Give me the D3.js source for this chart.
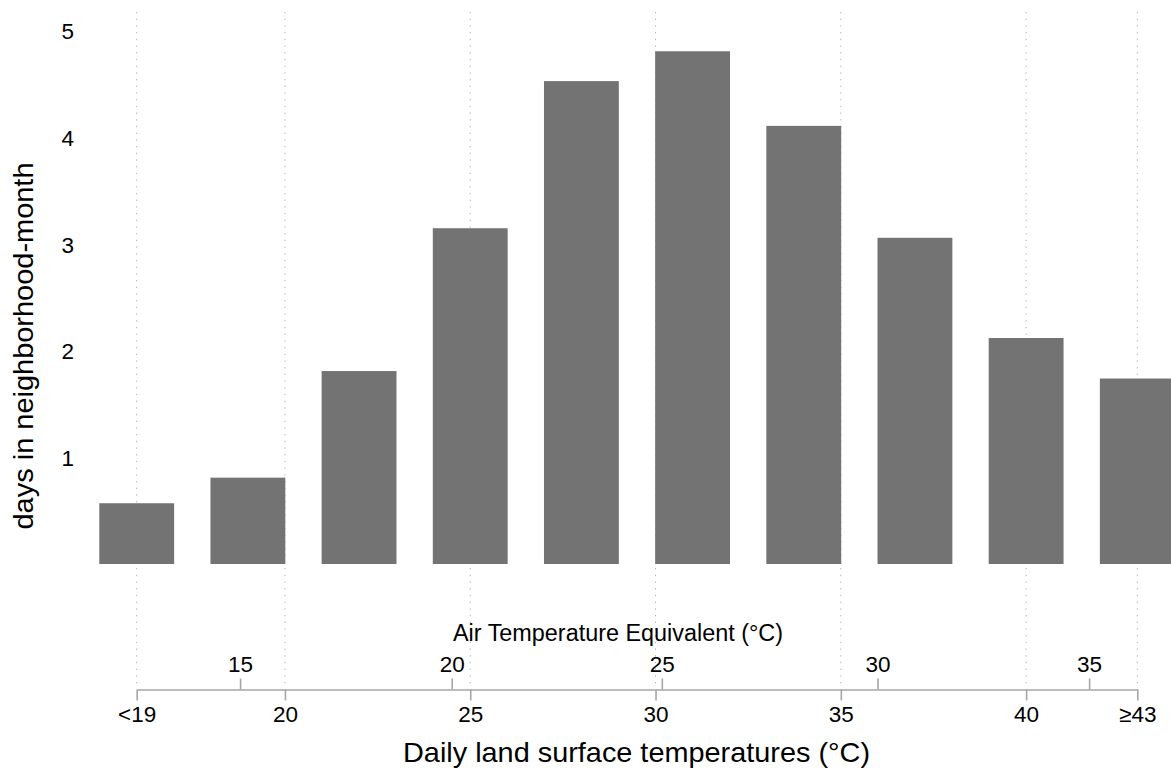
<!DOCTYPE html>
<html>
<head>
<meta charset="utf-8">
<script src="https://cdn.jsdelivr.net/npm/d3@7"></script>
<style>
  body { margin: 0; background: #fff; }
  svg text { font-family: "Liberation Sans", Arial, sans-serif; fill: #000; }
</style>
</head>
<body>
<div id="chart"></div>
<script>
// ---- data ----
// bin centres on the land surface temperature scale (3 deg bins)
var binCenters = [16, 19, 22, 25, 28, 31, 34, 37, 40, 43];
var daysValues = [0.57, 0.81, 1.81, 3.15, 4.53, 4.81, 4.11, 3.06, 2.12, 1.74];

// land surface temperature ticks (bottom)
var lstTickPos = [16, 20, 25, 30, 35, 40, 43];
var lstTickLabels = ["<19", "20", "25", "30", "35", "40", "\u226543"];

// air temperature equivalent ticks (top), positioned on the LST scale
var airTickPos = [18.79, 24.5, 30.17, 35.99, 41.7];
var airTickLabels = ["15", "20", "25", "30", "35"];

var yTicks = [1, 2, 3, 4, 5];

var width = 1171, height = 772;

var svg = d3.select("#chart")
  .append("svg")
  .attr("width", width)
  .attr("height", height);

// scales
var x = d3.scaleLinear()
  .domain([16, 43])
  .range([136.7, 1137.3]);

var y = d3.scaleLinear()
  .domain([0, 5])
  .range([564, 31]);

var barWidth = 2.02; // in temperature units
var axisY = 689.5;

// dotted vertical grid lines at each LST tick
svg.append("g")
  .selectAll("line")
  .data(lstTickPos)
  .enter()
  .append("line")
    .attr("x1", function(d) { return x(d); })
    .attr("x2", function(d) { return x(d); })
    .attr("y1", 12)
    .attr("y2", 684)
    .attr("stroke", "#b0b0b0")
    .attr("stroke-width", 1)
    .style("stroke-dasharray", "1.3,5.4");

// bars
svg.append("g")
  .selectAll("rect")
  .data(binCenters)
  .enter()
  .append("rect")
    .attr("x", function(d) { return x(d - barWidth / 2); })
    .attr("width", function(d) { return x(d + barWidth / 2) - x(d - barWidth / 2); })
    .attr("y", function(d, i) { return y(daysValues[i]); })
    .attr("height", function(d, i) { return y(0) - y(daysValues[i]); })
    .attr("fill", "#737373");

// y axis (labels only)
var yAxis = svg.append("g")
  .attr("transform", "translate(77,0)")
  .call(d3.axisLeft(y).tickValues(yTicks).tickSize(0).tickPadding(3).tickFormat(d3.format("d")));
yAxis.select(".domain").remove();
yAxis.selectAll("text")
  .attr("font-size", "22.5px")
  .attr("dy", "0.35em")
  .style("font-family", "'Liberation Sans', Arial, sans-serif");

// y axis title
svg.append("text")
  .attr("transform", "translate(33,346) rotate(-90)")
  .attr("text-anchor", "middle")
  .attr("font-size", "28px")
  .attr("textLength", 367)
  .attr("lengthAdjust", "spacingAndGlyphs")
  .text("days in neighborhood-month");

// bottom axis: land surface temperature
var lstAxis = svg.append("g")
  .attr("transform", "translate(0," + axisY + ")")
  .call(d3.axisBottom(x)
    .tickValues(lstTickPos)
    .tickFormat(function(d, i) { return lstTickLabels[i]; })
    .tickSize(11)
    .tickSizeOuter(0)
    .tickPadding(6));
lstAxis.select(".domain").attr("stroke", "#a6a6a6").attr("stroke-width", 1.6);
lstAxis.selectAll(".tick line").attr("stroke", "#a6a6a6").attr("stroke-width", 1.6);
lstAxis.selectAll(".tick text")
  .attr("font-size", "22.5px")
  .style("font-family", "'Liberation Sans', Arial, sans-serif");

// top axis: air temperature equivalent
var airAxis = svg.append("g")
  .attr("transform", "translate(0," + axisY + ")")
  .call(d3.axisTop(x)
    .tickValues(airTickPos)
    .tickFormat(function(d, i) { return airTickLabels[i]; })
    .tickSize(11)
    .tickSizeOuter(0)
    .tickPadding(7));
airAxis.select(".domain").remove();
airAxis.selectAll(".tick line").attr("stroke", "#a6a6a6").attr("stroke-width", 1.6);
airAxis.selectAll(".tick text")
  .attr("font-size", "22.5px")
  .style("font-family", "'Liberation Sans', Arial, sans-serif");

// axis titles
svg.append("text")
  .attr("x", 618)
  .attr("y", 641)
  .attr("text-anchor", "middle")
  .attr("font-size", "23px")
  .attr("textLength", 330)
  .attr("lengthAdjust", "spacingAndGlyphs")
  .text("Air Temperature Equivalent (\u00b0C)");

svg.append("text")
  .attr("x", 636.5)
  .attr("y", 762)
  .attr("text-anchor", "middle")
  .attr("font-size", "28.5px")
  .attr("textLength", 467)
  .attr("lengthAdjust", "spacingAndGlyphs")
  .text("Daily land surface temperatures (\u00b0C)");
</script>
</body>
</html>
